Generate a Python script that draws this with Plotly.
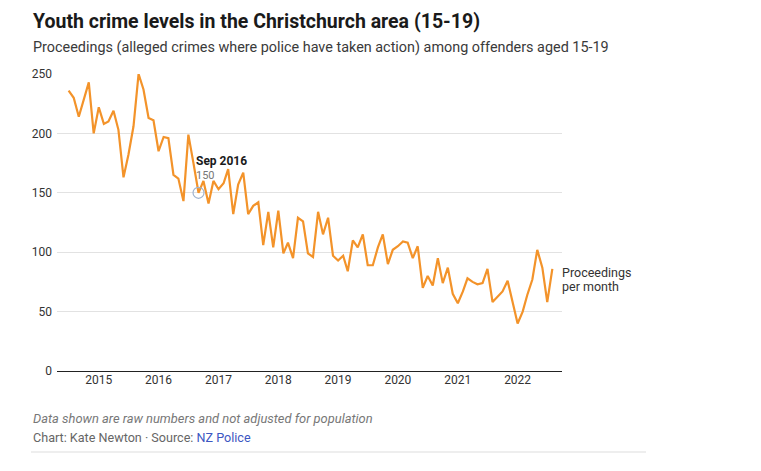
import plotly.graph_objects as go
import pandas as pd

# ---- data ----
start_month = "2014-07-01"
proceedings = [
    236, 230, 214, 228, 243, 200, 222, 208, 210, 219, 203, 163,   # Jul14-Jun15
    182, 206, 250, 237, 213, 211, 185, 197, 196, 165, 162, 143,   # Jul15-Jun16
    199, 175, 150, 160, 141, 160, 153, 158, 170, 132, 157, 167,   # Jul16-Jun17
    132, 139, 142, 106, 134, 104, 135, 99, 108, 95, 129, 126,     # Jul17-Jun18
    99, 96, 134, 115, 129, 97, 93, 97, 84, 110, 104, 115,         # Jul18-Jun19
    89, 89, 104, 115, 90, 102, 105, 109, 108, 95, 105, 70,        # Jul19-Jun20
    80, 72, 95, 74, 87, 65, 57, 67, 78, 75, 73, 74,               # Jul20-Jun21
    86, 58, 63, 67, 76, 57, 40, 50, 64, 77, 102, 87,              # Jul21-Jun22
    58, 86,                                                       # Jul22-Aug22
]
dates = pd.date_range(start_month, periods=len(proceedings), freq="MS")
highlight_date = "2016-09-01"
highlight_label = "Sep 2016"
year_ticks = ["2015", "2016", "2017", "2018", "2019", "2020", "2021", "2022"]
y_ticks = [0, 50, 100, 150, 200, 250]

series = pd.Series(proceedings, index=dates)
hl_val = series[pd.Timestamp(highlight_date)]

# ---- layout geometry ----
W, H = 761, 471
L, R = 57, 562
T, B = 74, 371
def px(x):
    return (x - L) / (R - L)
def py(y):
    return (B - y) / (B - T)

FONT = "Roboto"
ORANGE = "#f3932a"

fig = go.Figure()
fig.add_trace(go.Scatter(
    x=dates, y=proceedings, mode="lines",
    line=dict(color=ORANGE, width=2.2),
    hoverinfo="skip", showlegend=False,
))
fig.add_trace(go.Scatter(
    x=[pd.Timestamp(highlight_date)], y=[hl_val], mode="markers",
    marker=dict(symbol="circle-open", size=11, color="#9fb3cf", line=dict(width=1.2)),
    hoverinfo="skip", showlegend=False,
))

annotations = [
    dict(text="<b>Youth crime levels in the Christchurch area (15-19)</b>",
         x=px(31), y=py(21), font=dict(size=19.5, color="#1a1a1a", family=FONT)),
    dict(text="Proceedings (alleged crimes where police have taken action) among offenders aged 15-19",
         x=px(31), y=py(48), font=dict(size=14.4, color="#3a3a3a", family=FONT)),
    dict(text="<i>Data shown are raw numbers and not adjusted for population</i>",
         x=px(31), y=py(418), font=dict(size=12.9, color="#777777", family=FONT)),
    dict(text="Chart: Kate Newton · Source: <span style='color:#3d57c2'>NZ Police</span>",
         x=px(31), y=py(437), font=dict(size=12.6, color="#666666", family=FONT)),
    dict(text="Proceedings", x=px(560), y=py(272),
         font=dict(size=12.5, color="#333333", family=FONT)),
    dict(text="per month", x=px(560), y=py(286),
         font=dict(size=12.5, color="#333333", family=FONT)),
    dict(text="<b>%s</b>" % highlight_label, x=px(194), y=py(161),
         font=dict(size=12, color="#1a1a1a", family=FONT)),
    dict(text=str(hl_val), x=px(194), y=py(175),
         font=dict(size=11, color="#777777", family=FONT)),
]
for a in annotations:
    a.update(xref="paper", yref="paper", xanchor="left", yanchor="middle",
             showarrow=False, align="left")

fig.update_layout(
    width=W, height=H,
    margin=dict(l=L, r=W - R, t=T, b=H - B),
    paper_bgcolor="white", plot_bgcolor="white",
    font=dict(family=FONT, size=12, color="#333333"),
    annotations=annotations,
    shapes=[dict(type="line", xref="paper", yref="paper",
                 x0=px(31), x1=px(646), y0=py(452), y1=py(452),
                 line=dict(color="#dddddd", width=1))],
    xaxis=dict(
        type="date", range=["2014-04-21", "2022-09-29"],
        tickvals=[pd.Timestamp(f"{y}-01-01") for y in year_ticks],
        ticktext=year_ticks, showgrid=False, zeroline=False,
        showline=False, ticks="", tickfont=dict(size=12, color="#333333"),
        fixedrange=True,
    ),
    yaxis=dict(
        range=[0, 250], tickvals=y_ticks, showgrid=True,
        gridcolor="#e2e2e2", gridwidth=1, zeroline=True,
        zerolinecolor="#222222", zerolinewidth=1.3,
        ticks="", tickfont=dict(size=12, color="#333333"),
        ticklabelstandoff=4, fixedrange=True,
    ),
)

fig.write_html("out.html")
